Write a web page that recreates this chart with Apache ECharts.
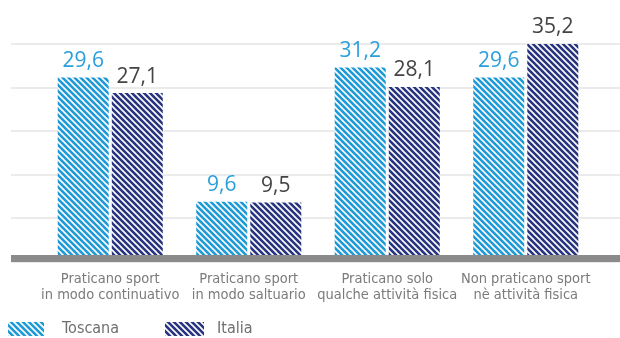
<!DOCTYPE html>
<html>
<head>
<meta charset="utf-8">
<script src="https://cdn.jsdelivr.net/npm/echarts@6/dist/echarts.min.js"></script>
<style>
  html, body { margin: 0; padding: 0; background: #fff; }
  #main { width: 620px; height: 338px; }
</style>
</head>
<body>
<div id="main"></div>
<script>
var categories = [
    'Praticano sport\nin modo continuativo',
    'Praticano sport\nin modo saltuario',
    'Praticano solo\nqualche attività fisica',
    'Non praticano sport\nnè attività fisica'
];
var toscana = [29.6, 9.6, 31.2, 29.6];
var italia = [27.1, 9.5, 28.1, 35.2];
var seriesNames = ['Toscana', 'Italia'];

// tratteggio diagonale bianco sopra il colore pieno
function stripes(color) {
    var c = document.createElement('canvas');
    var p = 6;
    c.width = p;
    c.height = p;
    var ctx = c.getContext('2d');
    ctx.fillStyle = color;
    ctx.fillRect(0, 0, p, p);
    ctx.strokeStyle = '#ffffff';
    ctx.lineWidth = 1.6;
    ctx.beginPath();
    ctx.moveTo(-1, -1); ctx.lineTo(p + 1, p + 1);
    ctx.moveTo(-1, p - 1); ctx.lineTo(1, p + 1);
    ctx.moveTo(p - 1, -1); ctx.lineTo(p + 1, 1);
    ctx.stroke();
    return { image: c, repeat: 'repeat' };
}

var colors = ['#1e9ad6', '#28347f'];
var narrow = "'Liberation Sans Narrow', 'DejaVu Sans Condensed', sans-serif";

var chart = echarts.init(document.getElementById('main'), null, { renderer: 'canvas' });

var labelValue = function (p) { return String(p.value).replace('.', ','); };

option = {
    animation: false,
    grid: [
        { left: 41, right: 25, top: 44, bottom: 76.5 },
        { left: 11, right: 0, top: 44, bottom: 76.5 }
    ],
    legend: [
        {
            data: ['Toscana'], left: 8, top: 321, padding: 0,
            icon: 'rect', itemWidth: 36, itemHeight: 14,
            textStyle: { color: '#6f6f6f', fontSize: 16, fontFamily: narrow, padding: [0, 0, 0, 13] }
        },
        {
            data: ['Italia'], left: 165, top: 321, padding: 0,
            icon: 'rect', itemWidth: 39, itemHeight: 14,
            textStyle: { color: '#6f6f6f', fontSize: 16, fontFamily: narrow, padding: [0, 0, 0, 8] }
        }
    ],
    xAxis: [
        {
            type: 'category',
            gridIndex: 0,
            data: categories,
            axisLine: { show: false },
            axisTick: { show: false },
            axisLabel: {
                interval: 0,
                margin: 10,
                color: '#7b7b7b',
                fontSize: 14.5,
                lineHeight: 16,
                fontFamily: narrow
            }
        },
        {
            type: 'value',
            gridIndex: 1,
            min: 0,
            max: 1,
            offset: -3,
            z: 5,
            axisLine: { show: true, lineStyle: { color: '#8a8a8a', width: 7, cap: 'butt' } },
            axisTick: { show: false },
            axisLabel: { show: false },
            splitLine: { show: false }
        }
    ],
    yAxis: [
        {
            type: 'value',
            gridIndex: 0,
            min: 0,
            max: 35,
            interval: 7,
            show: false,
            splitLine: { show: false }
        },
        {
            type: 'value',
            gridIndex: 1,
            min: 0,
            max: 35,
            interval: 7,
            axisLine: { show: false },
            axisTick: { show: false },
            axisLabel: { show: false },
            splitLine: { show: true, lineStyle: { color: '#e4e4e4', width: 1.5 } }
        }
    ],
    series: [
        {
            name: seriesNames[0],
            type: 'bar',
            xAxisIndex: 0,
            yAxisIndex: 0,
            data: toscana,
            barWidth: 51,
            barGap: '6%',
            itemStyle: { color: stripes(colors[0]) },
            label: {
                show: true,
                position: 'top',
                distance: 6,
                formatter: labelValue,
                color: '#2a9fdb',
                fontSize: 21,
                fontFamily: "'Open Sans', sans-serif"
            }
        },
        {
            name: seriesNames[1],
            type: 'bar',
            xAxisIndex: 0,
            yAxisIndex: 0,
            data: italia,
            barWidth: 51,
            barGap: '6%',
            itemStyle: { color: stripes(colors[1]) },
            label: {
                show: true,
                position: 'top',
                distance: 6,
                formatter: labelValue,
                color: '#444444',
                fontSize: 21,
                fontFamily: "'Open Sans', sans-serif"
            }
        }
    ]
};

chart.setOption(option);
</script>
</body>
</html>
